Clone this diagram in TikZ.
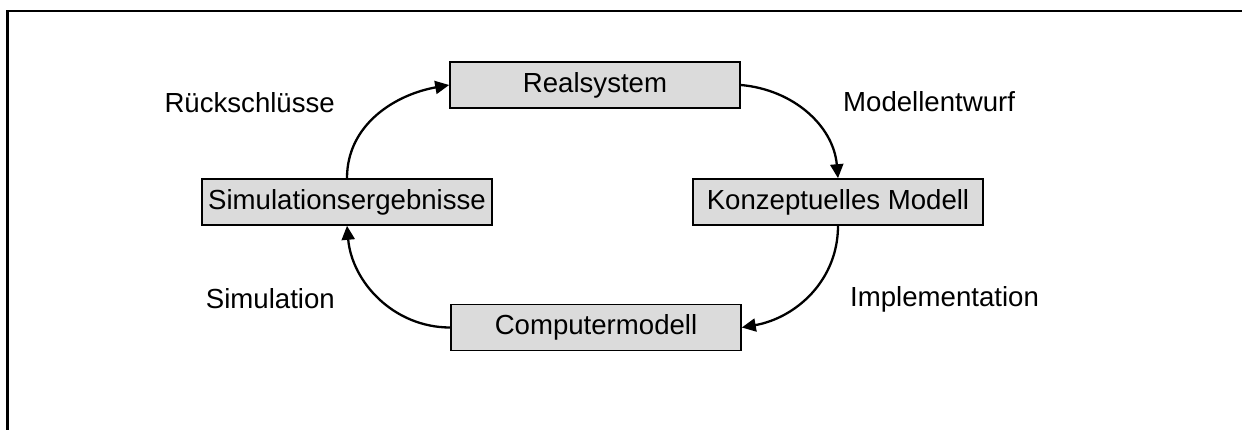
\documentclass[tikz,border=0pt]{standalone}
\usepackage{fontspec}
\setmainfont{Liberation Sans}
\usetikzlibrary{arrows.meta}
\begin{document}
\begin{tikzpicture}[x=1pt,y=-1pt,
  stagebox/.style={draw=black,line width=1.6pt,fill=black!14,minimum width=290pt,minimum height=46pt,inner sep=0pt,font=\fontsize{27.6}{30}\selectfont},
  steplabel/.style={font=\fontsize{27.6}{30}\selectfont,inner sep=0pt},
  flow/.style={line width=2.3pt,-{Triangle[length=14pt,width=13pt]}}]
  \useasboundingbox (0,0) rectangle (1242,430);
  % open frame: top and left edges only
  \draw[line width=2.4pt] (7.5,430) -- (7.5,11) -- (1242,11);
  % stages of the cycle
  \node[stagebox] (real) at (595,85) {Realsystem};
  \node[stagebox] (konz) at (838,202) {Konzeptuelles Modell};
  \node[stagebox] (comp) at (596,327.5) {Computermodell};
  \node[stagebox] (sim)  at (347,202) {Simulationsergebnisse};
  % transitions
  \draw[flow] (real.east) to[out=-5,in=95] (konz.north);
  \draw[flow] (konz.south) to[out=-90,in=10] (comp.east);
  \draw[flow] (comp.west) to[out=180,in=-85] (sim.south);
  \draw[flow] (sim.north) to[out=90,in=190] (real.west);
  % transition labels
  \node[steplabel,anchor=east] (l1) at (335,103) {Rückschlüsse};
  \node[steplabel,anchor=west] (l2) at (843,102) {Modellentwurf};
  \node[steplabel,anchor=east] (l3) at (335,299) {Simulation};
  \node[steplabel,anchor=west] (l4) at (850,299) {Implementation};
\end{tikzpicture}
\end{document}
